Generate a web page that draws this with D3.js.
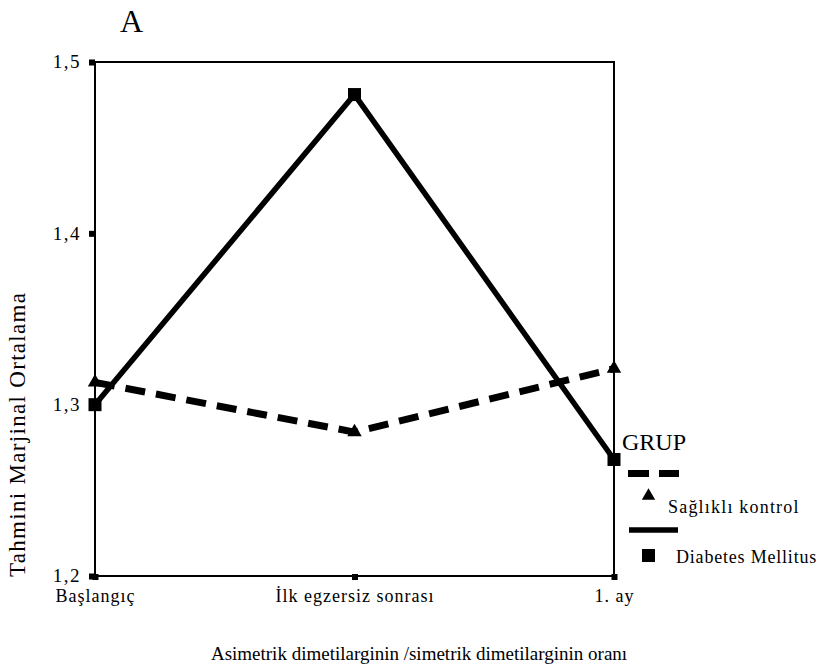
<!DOCTYPE html>
<html>
<head>
<meta charset="utf-8">
<script src="https://cdn.jsdelivr.net/npm/d3@7"></script>
<style>
  body { margin: 0; background: #fff; }
  svg text { font-family: "Liberation Serif", "Times New Roman", serif; fill: #000; }
</style>
</head>
<body>
<div class="chart-container"></div>
<script>
var categories = ['Başlangıç', 'İlk egzersiz sonrası', '1. ay'];
var saglikli = [1.313, 1.284, 1.321];
var diabetes = [1.300, 1.481, 1.268];
var yTicks = [1.2, 1.3, 1.4, 1.5];
var seriesNames = ['Sağlıklı kontrol', 'Diabetes Mellitus'];

var W = 820, H = 671;
var margin = {top: 62, right: 206, bottom: 95, left: 95};
var serif = '"Liberation Serif", "Times New Roman", serif';

var svg = d3.select('.chart-container').append('svg')
  .attr('width', W)
  .attr('height', H);

var x = d3.scalePoint()
  .domain(categories)
  .range([margin.left, W - margin.right]);

var y = d3.scaleLinear()
  .domain([1.2, 1.5])
  .range([H - margin.bottom, margin.top]);

// frame
svg.append('rect')
  .attr('x', margin.left)
  .attr('y', margin.top)
  .attr('width', W - margin.right - margin.left)
  .attr('height', H - margin.bottom - margin.top)
  .attr('fill', 'none')
  .attr('stroke', '#000')
  .attr('stroke-width', 2);

var fmt = d => d3.format('.1f')(d).replace('.', ',');

var yAxis = d3.axisLeft(y).tickValues(yTicks).tickFormat(fmt).tickSize(0).tickPadding(14);
var gY = svg.append('g')
  .attr('transform', `translate(${margin.left},0)`)
  .call(yAxis)
  .attr('font-family', serif)
  .attr('font-size', 19);
gY.select('.domain').remove();
gY.selectAll('text').style('letter-spacing', '1.5px').attr('dy', '0.3em');
gY.selectAll('.tick').append('rect')
  .attr('x', -6).attr('y', -3).attr('width', 6).attr('height', 6).attr('fill', '#000');

var xAxis = d3.axisBottom(x).tickSize(0).tickPadding(13);
var gX = svg.append('g')
  .attr('transform', `translate(0,${H - margin.bottom})`)
  .call(xAxis)
  .attr('font-family', serif)
  .attr('font-size', 18);
gX.select('.domain').remove();
gX.selectAll('text').style('letter-spacing', '1px');
gX.selectAll('.tick').append('rect')
  .attr('x', -3).attr('y', -2).attr('width', 6).attr('height', 6).attr('fill', '#000');

var line = d3.line()
  .x((d, i) => x(categories[i]))
  .y(d => y(d));

// Sağlıklı kontrol (dashed)
svg.append('path')
  .datum(saglikli)
  .attr('d', line)
  .attr('fill', 'none')
  .attr('stroke', '#000')
  .attr('stroke-width', 7)
  .attr('stroke-dasharray', '20,11');

svg.selectAll('.tri')
  .data(saglikli)
  .enter().append('path')
    .attr('class', 'tri')
    .attr('transform', (d, i) => `translate(${x(categories[i])},${y(d)})`)
    .attr('d', d3.symbol().type(d3.symbolTriangle).size(90));

// Diabetes Mellitus (solid)
svg.append('path')
  .datum(diabetes)
  .attr('d', line)
  .attr('fill', 'none')
  .attr('stroke', '#000')
  .attr('stroke-width', 5.5);

svg.selectAll('.sq')
  .data(diabetes)
  .enter().append('rect')
    .attr('class', 'sq')
    .attr('x', (d, i) => x(categories[i]) - 6.5)
    .attr('y', d => y(d) - 6.5)
    .attr('width', 13)
    .attr('height', 13);

// titles
svg.append('text')
  .attr('x', 120).attr('y', 32)
  .style('font-size', '32px')
  .text('A');

svg.append('text')
  .attr('transform', 'translate(25,435) rotate(-90)')
  .attr('text-anchor', 'middle')
  .attr('textLength', 284)
  .attr('lengthAdjust', 'spacing')
  .style('font-size', '23px')
  .text('Tahmini Marjinal Ortalama');

svg.append('text')
  .attr('x', 419).attr('y', 660)
  .attr('text-anchor', 'middle')
  .style('font-size', '19px')
  .text('Asimetrik dimetilarginin /simetrik dimetilarginin oranı');

// legend
var lg = svg.append('g');
lg.append('text').attr('x', 622).attr('y', 450).style('font-size', '24px').text('GRUP');
lg.append('line')
  .attr('x1', 628).attr('x2', 679).attr('y1', 473.5).attr('y2', 473.5)
  .attr('stroke', '#000').attr('stroke-width', 7).attr('stroke-dasharray', '21,10');
lg.append('path')
  .attr('transform', 'translate(648.5,496)')
  .attr('d', d3.symbol().type(d3.symbolTriangle).size(78));
lg.append('text').attr('x', 668).attr('y', 513).style('font-size', '18px')
  .style('letter-spacing', '1.2px').text(seriesNames[0]);
lg.append('line')
  .attr('x1', 629).attr('x2', 678).attr('y1', 530).attr('y2', 530)
  .attr('stroke', '#000').attr('stroke-width', 5.5);
lg.append('rect').attr('x', 642).attr('y', 549).attr('width', 13).attr('height', 13);
lg.append('text').attr('x', 676).attr('y', 563).style('font-size', '18px')
  .style('letter-spacing', '0.8px').text(seriesNames[1]);
</script>
</body>
</html>
